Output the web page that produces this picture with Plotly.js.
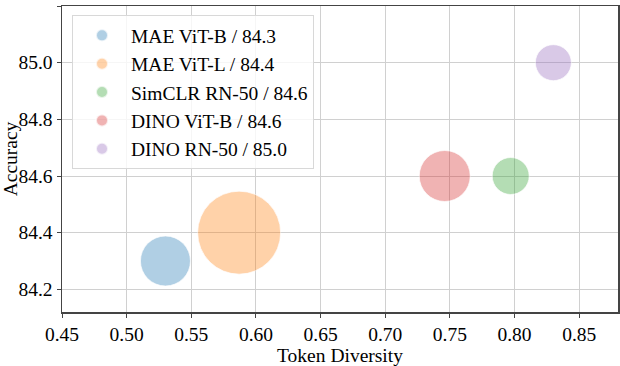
<!DOCTYPE html>
<html>
<head>
<meta charset="utf-8">
<script src="https://cdn.plot.ly/plotly-3.0.1.min.js"></script>
<style>
  html, body { margin: 0; padding: 0; background: #fff; }
  #chart { width: 620px; height: 366px; }
</style>
</head>
<body>
<div id="chart"></div>
<script>
// one bubble per model
var names = ['MAE ViT-B / 84.3', 'MAE ViT-L / 84.4', 'SimCLR RN-50 / 84.6', 'DINO ViT-B / 84.6', 'DINO RN-50 / 85.0'];
var diversity = [0.530, 0.587, 0.797, 0.746, 0.830];
var accuracy = [84.3, 84.4, 84.6, 84.6, 85.0];
var bubbleSize = [50, 83, 37, 51, 36];
var colors = ['rgba(31,119,180,0.5)', 'rgba(255,127,14,0.5)', 'rgba(44,160,44,0.5)', 'rgba(214,39,40,0.5)', 'rgba(148,103,189,0.5)'];

var serif = '"Liberation Serif", "Times New Roman", Times, serif';

var data = names.map(function (n, i) {
  return {
    x: [diversity[i]],
    y: [accuracy[i]],
    mode: 'markers',
    type: 'scatter',
    name: n,
    marker: {
      size: [bubbleSize[i]],
      color: colors[i],
      line: { color: 'rgba(255,255,255,0.7)', width: 1 }
    }
  };
});

var axisStyle = {
  showline: true,
  mirror: true,
  linecolor: '#444',
  linewidth: 1.5,
  ticks: 'outside',
  ticklen: 4,
  tickcolor: '#444',
  showgrid: true,
  gridcolor: '#d0d0d0',
  gridwidth: 1,
  zeroline: false,
  tickfont: { family: serif, size: 19.5, color: '#000' }
};

var layout = {
  width: 620,
  height: 366,
  margin: { l: 62, r: 2, t: 6, b: 54 },
  paper_bgcolor: '#fff',
  plot_bgcolor: '#fff',
  font: { family: serif, color: '#000' },
  xaxis: Object.assign({}, axisStyle, {
    range: [0.45, 0.88],
    tick0: 0.45,
    dtick: 0.05,
    tickformat: '.2f',
    title: { text: 'Token Diversity', font: { family: serif, size: 19.5 }, standoff: 4 }
  }),
  yaxis: Object.assign({}, axisStyle, {
    range: [84.12, 85.2],
    tick0: 84.2,
    dtick: 0.2,
    tickformat: '.1f',
    title: { text: 'Accuracy', font: { family: serif, size: 19.5 }, standoff: 6 }
  }),
  legend: {
    x: 0.018,
    y: 0.97,
    xanchor: 'left',
    yanchor: 'top',
    bgcolor: 'rgba(255,255,255,0.8)',
    bordercolor: '#d8d8d8',
    borderwidth: 1,
    itemsizing: 'constant',
    itemwidth: 48,
    font: { family: serif, size: 19.5, color: '#000' }
  },
  showlegend: true
};

Plotly.newPlot('chart', data, layout, { displayModeBar: false, staticPlot: true });
</script>
</body>
</html>
